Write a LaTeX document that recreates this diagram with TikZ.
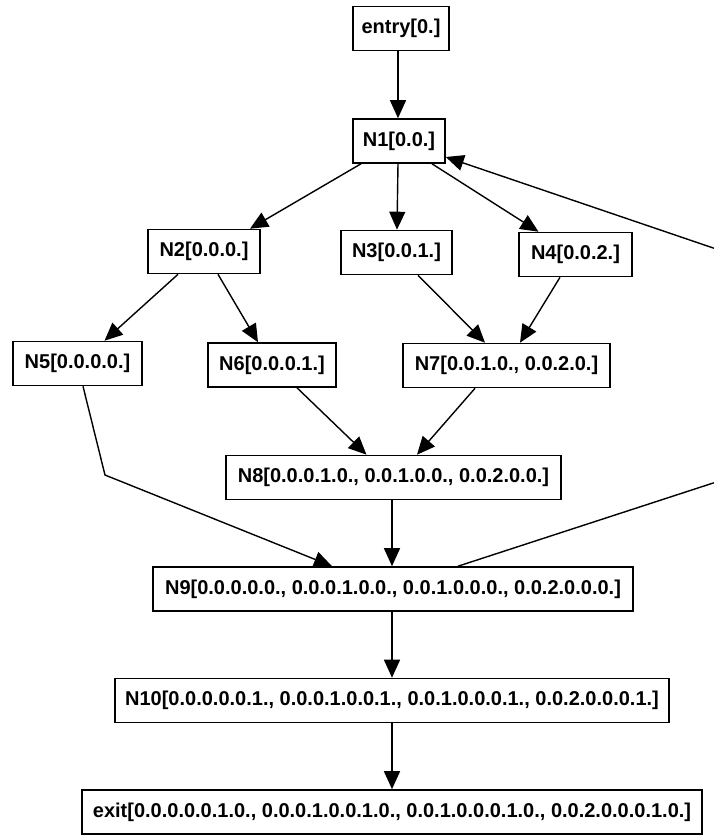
\documentclass[tikz,border=0pt]{standalone}
\usepackage{fontspec}
\setmainfont{Liberation Sans}
\usetikzlibrary{arrows.meta}
\begin{document}
\begin{tikzpicture}[x=1pt,y=-1pt,
  blk/.style={draw, line width=1.6pt, rectangle, inner sep=0pt,
    minimum height=44pt, font=\fontsize{20}{24}\selectfont\bfseries},
  flow/.style={line width=1.4pt, -{Triangle[length=18pt,width=16pt]}}]
\useasboundingbox (0,0) rectangle (714,836);
\clip (0,0) rectangle (714,836);

% nodes of the flow graph
\node[blk, minimum width=96pt]  (entry) at (401,28.5)  {entry[0.]};
\node[blk, minimum width=92pt]  (N1)    at (399,141)   {N1[0.0.]};
\node[blk, minimum width=112pt] (N2)    at (204,251.5) {N2[0.0.0.]};
\node[blk, minimum width=111pt] (N3)    at (396.5,252.5) {N3[0.0.1.]};
\node[blk, minimum width=113pt] (N4)    at (575.5,254.5) {N4[0.0.2.]};
\node[blk, minimum width=129pt] (N5)    at (77.5,363.5) {N5[0.0.0.0.]};
\node[blk, minimum width=128pt] (N6)    at (272,365)   {N6[0.0.0.1.]};
\node[blk, minimum width=207pt] (N7)    at (506.5,365.5) {N7[0.0.1.0., 0.0.2.0.]};
\node[blk, minimum width=335pt] (N8)    at (393.5,477.5) {N8[0.0.0.1.0., 0.0.1.0.0., 0.0.2.0.0.]};
\node[blk, minimum width=480pt] (N9)    at (393,589)   {N9[0.0.0.0.0., 0.0.0.1.0.0., 0.0.1.0.0.0., 0.0.2.0.0.0.]};
\node[blk, minimum width=554pt] (N10)   at (392,700.5) {N10[0.0.0.0.0.1., 0.0.0.1.0.0.1., 0.0.1.0.0.0.1., 0.0.2.0.0.0.1.]};
\node[blk, minimum width=620pt] (exit)  at (392,812)   {exit[0.0.0.0.0.1.0., 0.0.0.1.0.0.1.0., 0.0.1.0.0.0.1.0., 0.0.2.0.0.0.1.0.]};

% bend points of the routed edges
\coordinate (n5bend) at (105,475);
\coordinate (backbend) at (1066,368);

% edges
\draw[flow] ([xshift=-3pt]entry.south) -- ([xshift=-1pt]N1.north);
\draw[flow] ([xshift=-38pt]N1.south) -- ([xshift=46pt]N2.north);
\draw[flow] ([xshift=-1pt]N1.south) -- ([xshift=0.5pt]N3.north);
\draw[flow] ([xshift=33pt]N1.south) -- ([xshift=-37pt]N4.north);
\draw[flow] ([xshift=-26pt]N2.south) -- ([xshift=27pt]N5.north);
\draw[flow] ([xshift=14pt]N2.south) -- ([xshift=-14pt]N6.north);
\draw[flow] ([xshift=21.5pt]N3.south) -- ([xshift=-21.5pt]N7.north);
\draw[flow] ([xshift=-15.5pt]N4.south) -- ([xshift=13.5pt]N7.north);
\draw[flow] ([xshift=25pt]N6.south) -- ([xshift=-27pt]N8.north);
\draw[flow] ([xshift=-31.5pt]N7.south) -- ([xshift=23.5pt]N8.north);
\draw[flow] ([xshift=-1.5pt]N8.south) -- ([xshift=-1pt]N9.north);
\draw[flow] ([xshift=5.5pt]N5.south) -- (n5bend) -- ([xshift=-61pt]N9.north);
\draw[flow] ([xshift=-1pt]N9.south) -- (N10.north);
\draw[flow] (N10.south) -- (exit.north);
\draw[flow] ([xshift=65pt]N9.north) -- (backbend) -- ([yshift=-16pt]N1.east);
\end{tikzpicture}
\end{document}
